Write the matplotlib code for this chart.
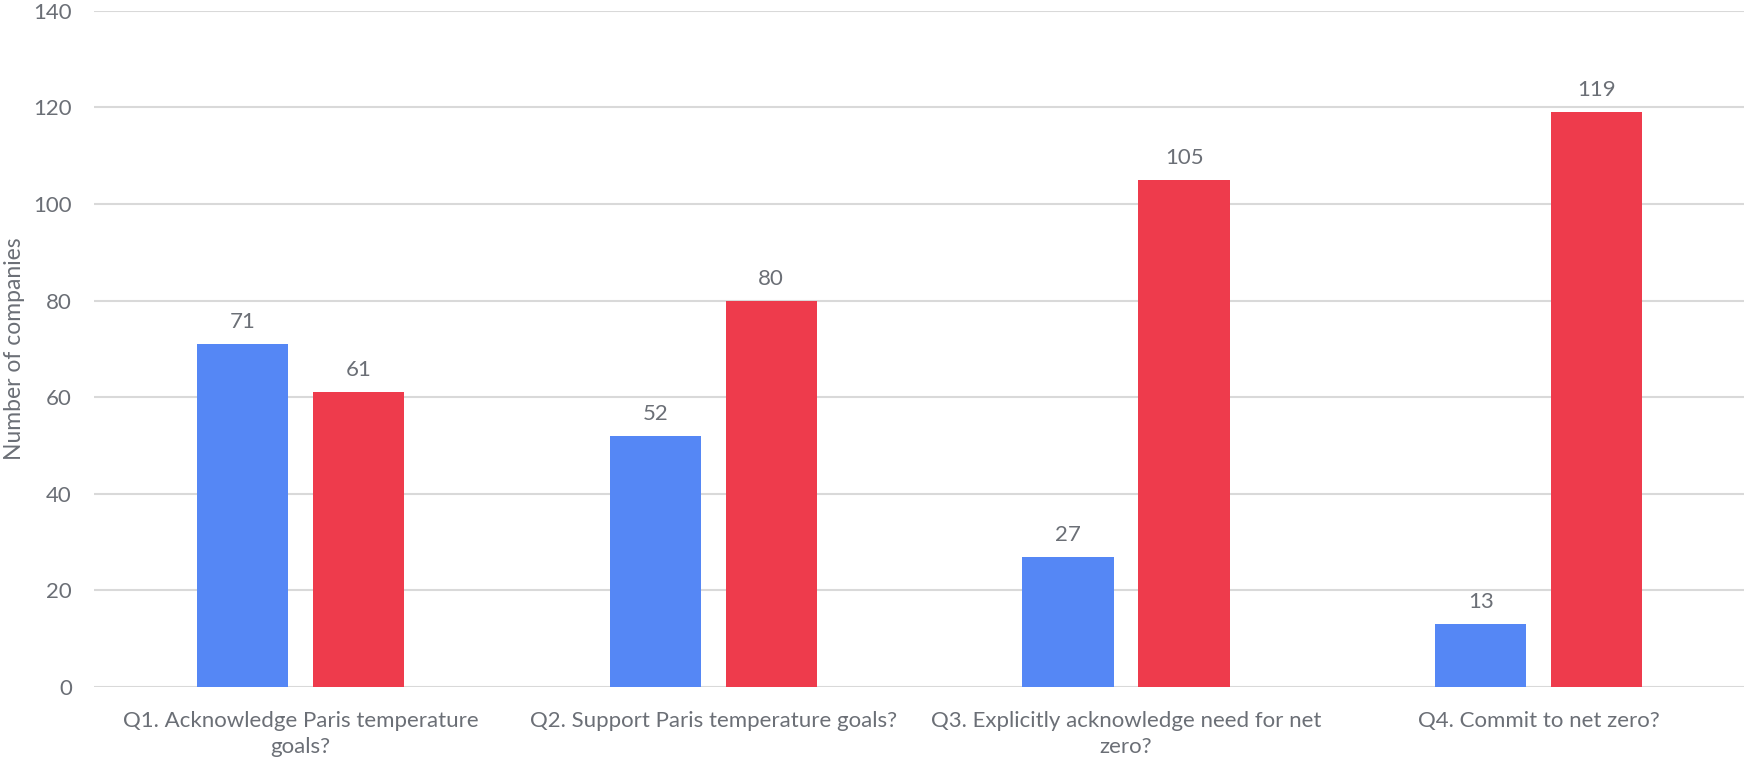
import numpy as np
import matplotlib.pyplot as plt

# Data
categories = [
    "Q1. Acknowledge Paris temperature\ngoals?",
    "Q2. Support Paris temperature goals?",
    "Q3. Explicitly acknowledge need for net\nzero?",
    "Q4. Commit to net zero?",
]
yes_counts = [71, 52, 27, 13]
no_counts = [61, 80, 105, 119]
y_ticks = [0, 20, 40, 60, 80, 100, 120, 140]

BLUE = "#5587F5"
RED = "#EE3B4C"
TEXT = "#6B6F76"
GRID = "#D9D9D9"

plt.rcParams["font.family"] = ["Lato", "DejaVu Sans"]

fig = plt.figure(figsize=(17.44, 7.57), dpi=100)
ax = fig.add_axes([0.054, 0.0925, 0.9467, 0.8934])

x = np.arange(len(categories))
width = 0.221
gap = 0.06
offset = (width + gap) / 2
bars_yes = ax.bar(x - offset, yes_counts, width, color=BLUE, zorder=3)
bars_no = ax.bar(x + offset, no_counts, width, color=RED, zorder=3)

# value labels above each bar
for bars in (bars_yes, bars_no):
    for b in bars:
        ax.annotate(str(int(b.get_height())),
                    (b.get_x() + b.get_width() / 2, b.get_height()),
                    xytext=(0, 12), textcoords="offset pixels",
                    ha="center", va="bottom", fontsize=16, color=TEXT)

ax.set_xlim(-0.5, len(categories) - 0.5)
ax.set_ylim(0, 140)
ax.set_yticks(y_ticks)
ax.set_xticks(x)
ax.set_xticklabels(categories, fontsize=16, color=TEXT, linespacing=1.38)
ax.tick_params(axis="y", labelsize=16, labelcolor=TEXT, length=0, pad=16)
ax.tick_params(axis="x", length=0, pad=17)
ax.grid(axis="y", color=GRID, linewidth=1.5, zorder=0)
for s in ax.spines.values():
    s.set_visible(False)
fig.text(0.0085, 0.0925 + 0.8934 / 2, "Number of companies", rotation=90,
         ha="center", va="center", fontsize=16.5, color=TEXT)

plt.savefig("out.png", dpi=100)
